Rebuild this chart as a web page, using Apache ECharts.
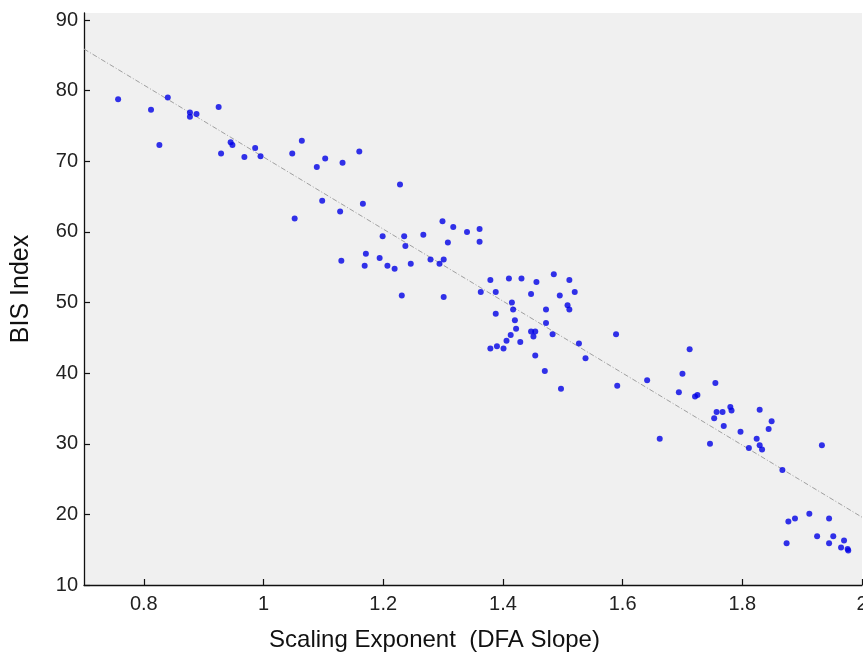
<!DOCTYPE html>
<html>
<head>
<meta charset="utf-8">
<script src="https://cdn.jsdelivr.net/npm/echarts@6/dist/echarts.min.js"></script>
<style>
html,body{margin:0;padding:0;background:#fff;}
#chart{width:863px;height:657px;}
</style>
</head>
<body>
<div id="chart"></div>
<script>
const xValues = [0.757,0.812,0.826,0.840,0.877,0.877,0.888,0.925,0.929,0.945,0.948,0.968,0.986,0.995,1.048,1.052,1.064,1.103,1.089,1.132,1.160,1.228,1.098,1.166,1.128,1.199,1.235,1.237,1.267,1.299,1.317,1.340,1.361,1.308,1.361,1.130,1.171,1.169,1.194,1.207,1.219,1.246,1.279,1.301,1.294,1.231,1.301,1.379,1.410,1.431,1.456,1.485,1.511,1.520,1.363,1.388,1.447,1.495,1.388,1.415,1.417,1.472,1.508,1.511,1.420,1.422,1.472,1.413,1.447,1.454,1.451,1.483,1.406,1.429,1.390,1.379,1.401,1.454,1.470,1.497,1.527,1.538,1.589,1.591,1.641,1.662,1.712,1.700,1.694,1.721,1.725,1.755,1.757,1.767,1.753,1.769,1.746,1.780,1.782,1.797,1.829,1.849,1.844,1.824,1.829,1.833,1.811,1.933,1.867,1.877,1.888,1.912,1.945,1.874,1.925,1.952,1.945,1.970,1.965,1.976,1.977];
const yValues = [78.8,77.3,72.3,79.05,76.9,76.3,76.7,77.7,71.1,72.7,72.3,70.6,71.9,70.7,71.1,61.9,72.9,70.4,69.2,69.8,71.4,66.7,64.4,64.0,62.9,59.4,59.4,58.0,59.6,61.5,60.7,60.0,60.4,58.5,58.6,55.9,56.9,55.2,56.3,55.2,54.8,55.5,56.1,56.1,55.5,51.0,50.8,53.2,53.4,53.4,52.9,54.0,53.2,51.5,51.5,51.5,51.2,51.0,48.4,50.0,49.0,49.0,49.6,49.0,47.5,46.3,47.1,45.4,45.9,45.9,45.2,45.5,44.6,44.4,43.8,43.5,43.5,42.5,40.3,37.8,44.2,42.1,45.5,38.2,39.0,30.7,43.4,39.9,37.3,36.7,36.9,38.6,34.5,34.5,33.6,32.5,30.0,35.2,34.7,31.7,34.8,33.2,32.1,30.7,29.8,29.2,29.4,29.8,26.3,19.0,19.4,20.1,19.4,15.9,16.9,16.9,15.9,16.3,15.3,15.1,14.9];
const fitX = [0.7, 2.0];
const fitY = [85.9, 19.6];
const xTicks = [0.8, 1.0, 1.2, 1.4, 1.6, 1.8, 2.0];
const yTicks = [10, 20, 30, 40, 50, 60, 70, 80, 90];

const points = xValues.map((x, i) => [x, yValues[i]]);
const fitLine = fitX.map((x, i) => [x, fitY[i]]);

const chart = echarts.init(document.getElementById('chart'), null, {renderer: 'canvas'});
const font = 'Liberation Sans, Arial, Helvetica, sans-serif';
chart.setOption({
  animation: false,
  backgroundColor: '#ffffff',
  grid: {left: 84, right: 1, top: 13, bottom: 72, show: true, backgroundColor: '#f0f0f0', borderWidth: 0,
    containLabel: false, outerBoundsMode: 'none'},
  xAxis: {
    type: 'value', min: 0.7, max: 2.0,
    name: 'Scaling Exponent  (DFA Slope)', nameLocation: 'middle', nameGap: 43,
    nameTextStyle: {fontFamily: font, fontSize: 24, color: '#111', padding: [0, 77, 0, 0]},
    axisLine: {show: true, onZero: false, lineStyle: {color: '#111', width: 1.3}},
    axisTick: {show: true, inside: true, length: 6, customValues: xTicks, lineStyle: {color: '#111', width: 1.2}},
    axisLabel: {customValues: xTicks, fontFamily: font, fontSize: 20, color: '#222', margin: 9,
      formatter: v => String(+(+v).toFixed(1))},
    splitLine: {show: false}
  },
  yAxis: {
    type: 'value', min: 10, max: 91,
    name: 'BIS Index', nameLocation: 'middle', nameGap: 50,
    nameTextStyle: {fontFamily: font, fontSize: 25, color: '#111', padding: [0, 0, 0, 20]},
    axisLine: {show: true, onZero: false, lineStyle: {color: '#111', width: 1.3}},
    axisTick: {show: true, inside: true, length: 6, customValues: yTicks, lineStyle: {color: '#111', width: 1.2}},
    axisLabel: {customValues: yTicks, fontFamily: font, fontSize: 20, color: '#222', margin: 6},
    splitLine: {show: false}
  },
  series: [
    {
      type: 'line', data: fitLine, symbol: 'none', silent: true,
      lineStyle: {color: '#a0a0a0', width: 1, type: [5, 2, 1, 2]}, z: 1
    },
    {
      type: 'scatter', data: points, symbol: 'circle', symbolSize: 6,
      itemStyle: {color: '#0000e6'}, z: 2
    }
  ]
});
</script>
</body>
</html>
